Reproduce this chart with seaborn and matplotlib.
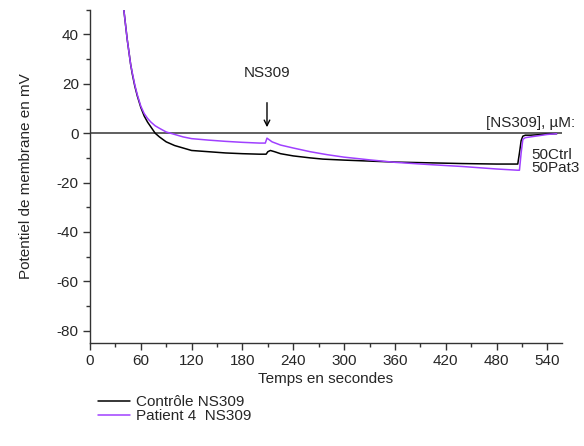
import matplotlib
matplotlib.use("Agg")
import pandas as pd
import matplotlib.pyplot as plt
import seaborn as sns

### values
t_ctrl = [40, 42, 44, 46, 48, 50, 53, 56, 60, 64, 68, 72, 77, 82, 90, 100, 110, 120,
          140, 160, 180, 200, 208, 210, 213, 218, 225, 240, 260, 275, 300, 330, 360,
          400, 440, 480, 505, 507, 509, 511, 514, 520, 530, 540, 551]
v_ctrl = [50, 44, 38, 33, 28, 24, 19, 15, 10.5, 7, 4.5, 2.5, 0, -1.5, -3.5, -5, -6, -7,
          -7.5, -8, -8.3, -8.5, -8.5, -7.5, -7, -7.5, -8.3, -9.2, -10, -10.5, -10.9,
          -11.3, -11.7, -12, -12.3, -12.5, -12.5, -8, -3, -1.2, -0.8, -0.8, -0.6, -0.3, -0.2]

t_pat = [40, 42, 44, 46, 48, 50, 53, 56, 60, 64, 68, 72, 77, 82, 90, 95, 100, 110, 120,
         140, 160, 180, 200, 207, 209, 211, 215, 225, 240, 260, 280, 300, 330, 360, 400,
         440, 480, 505, 507, 509, 511, 514, 520, 530, 540, 551]
v_pat = [50, 44, 38, 33, 28, 24.5, 19.5, 15.5, 11, 8, 6, 4.5, 3, 2, 0.5, 0, -0.5, -1.5,
         -2.2, -2.8, -3.3, -3.7, -4, -4, -2, -2.5, -3.5, -4.8, -6, -7.5, -8.7, -9.7,
         -10.8, -11.8, -12.7, -13.5, -14.5, -15, -15, -8, -2.5, -1.8, -1.5, -1, -0.5, -0.2]

x_ticks = [0, 60, 120, 180, 240, 300, 360, 420, 480, 540]
y_ticks = [-80, -60, -40, -20, 0, 20, 40]
labels = ["Contrôle NS309", "Patient 4  NS309"]
colors = ["#000000", "#A040FF"]

ctrl = pd.DataFrame({"t": t_ctrl, "v": v_ctrl})
pat = pd.DataFrame({"t": t_pat, "v": v_pat})

sns.set_style("ticks")
plt.rcParams["font.family"] = ["Liberation Sans", "DejaVu Sans"]
plt.rcParams["axes.unicode_minus"] = False

fig = plt.figure(figsize=(5.84, 4.46), dpi=100)
ax = fig.add_axes([0.154, 0.231, 0.808, 0.747])

ax.axhline(0, color="#444444", lw=1.2, zorder=1)
sns.lineplot(data=ctrl, x="t", y="v", ax=ax, color=colors[0], lw=1.1, label=labels[0])
sns.lineplot(data=pat, x="t", y="v", ax=ax, color=colors[1], lw=1.1, label=labels[1])

ax.set_xlim(0, 557)
ax.set_ylim(-85, 50)
ax.set_xticks(x_ticks)
ax.set_xticks(range(30, 557, 60), minor=True)
ax.set_yticks(y_ticks)
ax.set_yticks(range(-70, 51, 20), minor=True)
ax.tick_params(labelsize=11, length=5, width=1, color="#333333", pad=3)
ax.tick_params(which="minor", length=3, width=1, color="#333333")
for s in ["left", "bottom"]:
    ax.spines[s].set_color("#333333")
    ax.spines[s].set_linewidth(1)
sns.despine(ax=ax)

ax.set_xlabel("Temps en secondes", fontsize=11, labelpad=3)
ax.set_ylabel("Potentiel de membrane en mV", fontsize=11, labelpad=17)

### NS309 addition mark
ax.annotate("", xy=(209, 1.3), xytext=(209, 13.5),
            arrowprops=dict(arrowstyle="->", color="black", lw=1))
ax.text(209, 24.5, "NS309", ha="center", va="center", fontsize=11)
ax.text(573, 4, "[NS309], µM:", ha="right", va="center", fontsize=11, clip_on=False)
ax.text(521, -9, "50Ctrl", ha="left", va="center", fontsize=11, clip_on=False)
ax.text(521, -14.2, "50Pat3", ha="left", va="center", fontsize=11, clip_on=False)

ax.legend(loc="upper left", bbox_to_anchor=(0.168, 0.114), bbox_transform=fig.transFigure,
          frameon=False, fontsize=11, handlelength=2.1, handletextpad=0.4,
          labelspacing=0.0, borderpad=0, borderaxespad=0)

fig.savefig("out.png", dpi=100)
